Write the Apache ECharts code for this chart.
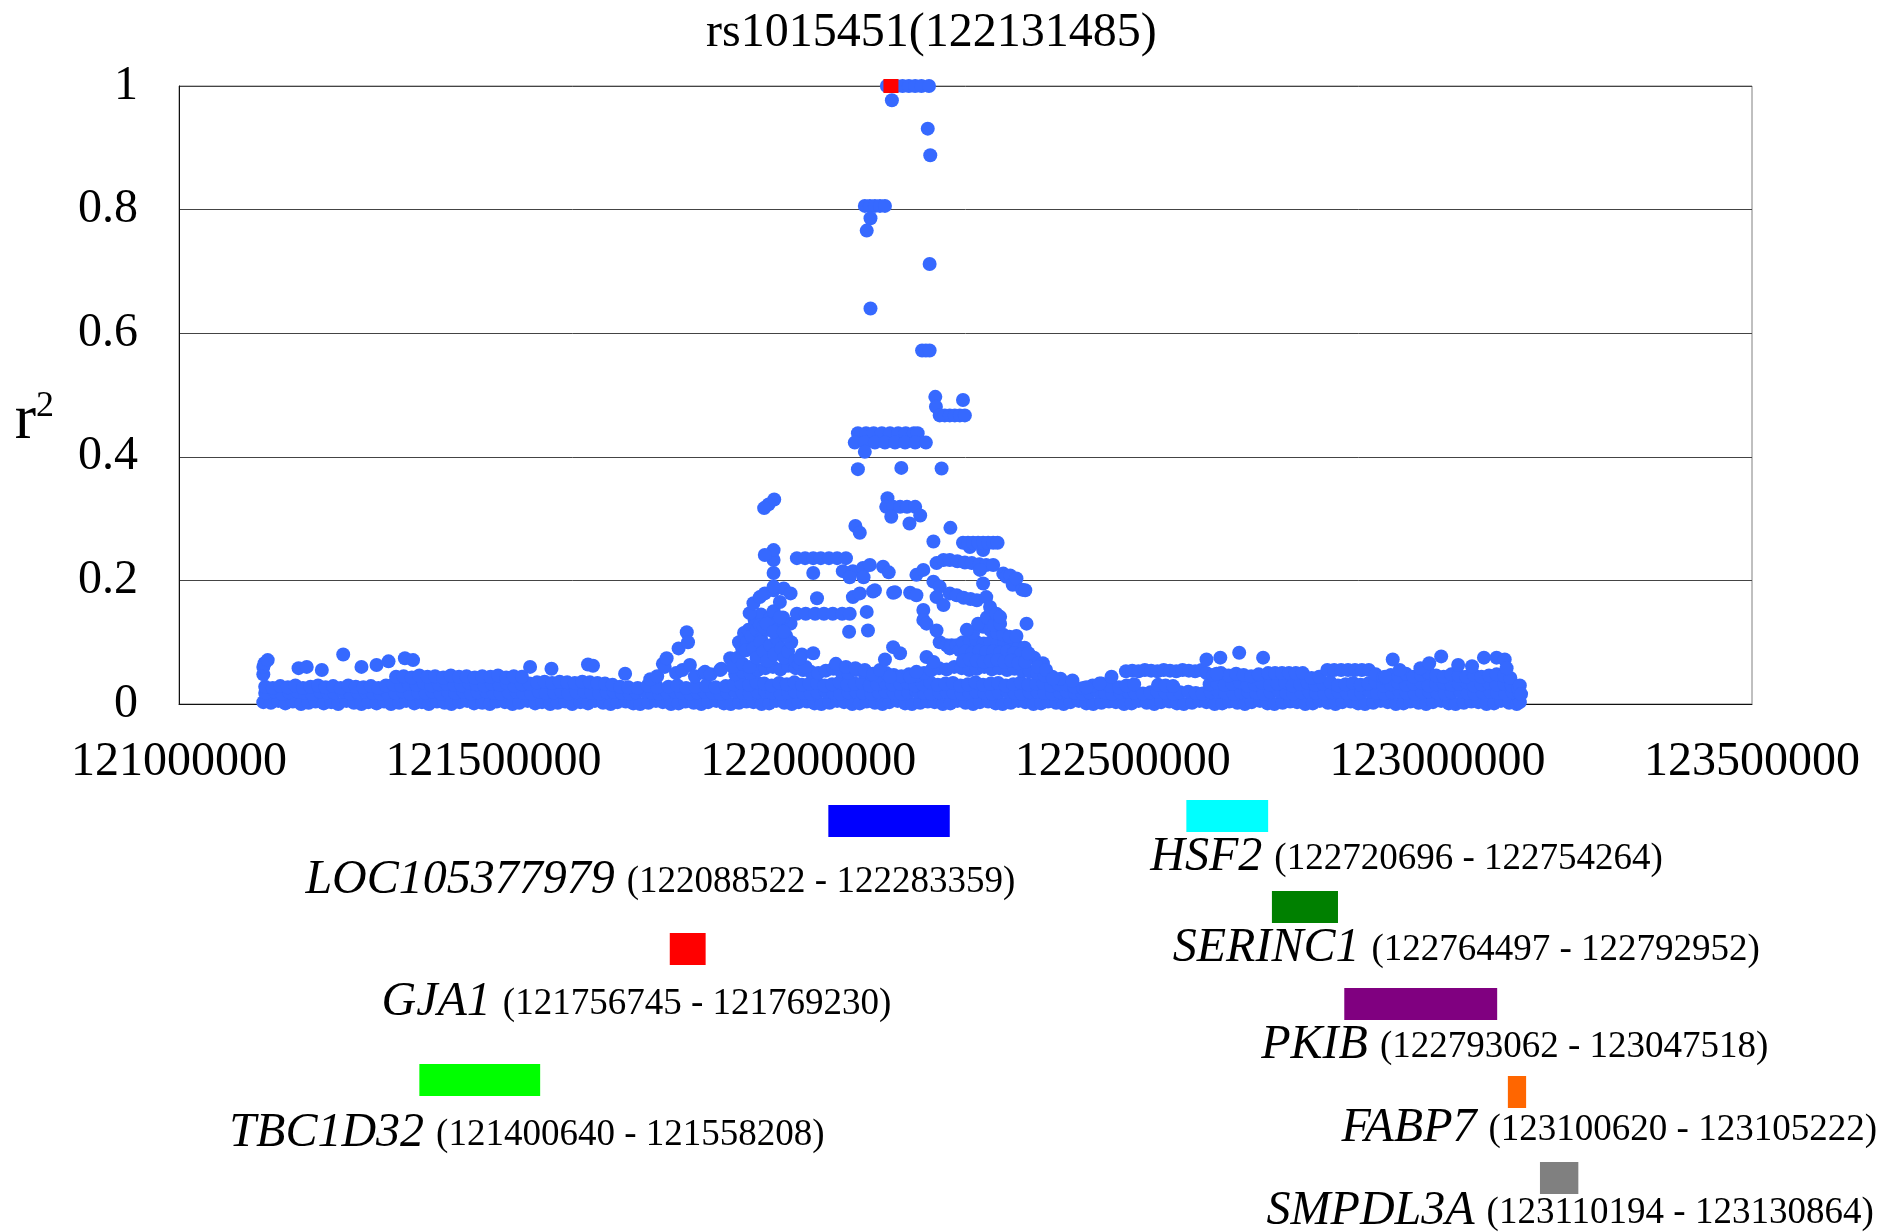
<!DOCTYPE html>
<html><head><meta charset="utf-8">
<script src="https://cdn.jsdelivr.net/npm/echarts@6/dist/echarts.min.js"></script>
<style>html,body{margin:0;padding:0;background:#fff}#c{width:1883px;height:1232px}</style>
</head><body><div id="c"></div><script>
// ---------------- DATA ----------------
const titleText = 'rs1015451(122131485)';
const leadSnp = [122131485, 1];
const xTicks = [121000000, 121500000, 122000000, 122500000, 123000000, 123500000];
const yTicks = [0, 0.2, 0.4, 0.6, 0.8, 1];
// SNP positions are kb offsets from 121,000 kb; values are r2
const REGION_START_KB = 121000;
const bandLow = [[134,0.003],[146,0.002],[158,0.005],[169,0.001],[181,0.004],[194,0],[206,0.002],[217,0.004],[230,0.001],[242,0.003],[253,0],[266,0.005],[278,0.002],[290,0],[301,0.003],[314,0.001],[326,0.004],[337,0],[350,0.002],[361,0.005],[374,0.001],[386,0.003],[397,0],[410,0.004],[422,0.002],[433,0],[446,0.003],[458,0.005],[469,0.001],[482,0.002],[494,0],[505,0.004],[518,0.003],[530,0],[541,0.002],[554,0.005],[566,0.001],[577,0.003],[590,0],[602,0.002],[614,0.004],[625,0],[638,0.003],[650,0.001],[661,0.005],[674,0.002],[686,0],[697,0.003],[710,0.004],[722,0.001],[733,0],[746,0.002],[758,0.005],[769,0.003],[782,0],[794,0.001],[805,0.004],[818,0.002],[830,0],[841,0.003],[854,0.005],[866,0.001],[877,0],[890,0.002],[902,0.004],[913,0.003],[926,0],[938,0.001],[949,0.005],[962,0.002],[974,0],[985,0.003],[998,0.004],[1010,0.001],[1021,0],[1034,0.002],[1046,0.005],[1057,0.003],[1070,0],[1082,0.001],[1093,0.004],[1106,0.002],[1118,0],[1129,0.003],[1142,0.005],[1154,0.001],[1165,0],[1178,0.002],[1190,0.004],[1201,0.003],[1214,0],[1226,0.001],[1237,0.005],[1250,0.002],[1262,0],[1273,0.003],[1286,0.004],[1298,0.001],[1309,0],[1322,0.002],[1334,0.005],[1345,0.003],[1358,0],[1370,0.001],[1381,0.004],[1394,0.002],[1406,0],[1417,0.003],[1430,0.005],[1442,0.001],[1453,0],[1466,0.002],[1478,0.004],[1489,0.003],[1502,0],[1514,0.001],[1525,0.005],[1538,0.002],[1550,0],[1561,0.003],[1574,0.004],[1586,0.001],[1597,0],[1610,0.002],[1622,0.005],[1633,0.003],[1646,0],[1658,0.001],[1669,0.004],[1682,0.002],[1694,0],[1705,0.003],[1718,0.005],[1730,0.001],[1741,0],[1754,0.002],[1766,0.004],[1777,0.003],[1790,0],[1802,0.001],[1813,0.005],[1826,0.002],[1838,0],[1849,0.003],[1862,0.004],[1874,0.001],[1885,0],[1898,0.002],[1910,0.005],[1921,0.003],[1934,0],[1946,0.001],[1957,0.004],[1970,0.002],[1982,0],[1993,0.003],[2006,0.005],[2018,0.001],[2029,0],[2042,0.002],[2054,0.004],[2065,0.003],[2078,0],[2090,0.001],[2101,0.005],[2114,0.002],[2126,0],[2131,0.003]];
const bandMid = [[137,0.018],[152,0.02],[163,0.017],[175,0.019],[188,0.02],[200,0.018],[211,0.017],[224,0.02],[236,0.019],[247,0.018],[260,0.02],[272,0.017],[284,0.019],[296,0.02],[308,0.018],[320,0.017],[331,0.019],[344,0.018],[356,0.02],[367,0.017],[380,0.019],[392,0.018],[403,0.02],[416,0.017],[428,0.019],[439,0.018],[452,0.02],[464,0.017],[475,0.019],[488,0.02],[500,0.018],[511,0.017],[524,0.019],[536,0.02],[547,0.018],[560,0.017],[572,0.02],[583,0.018],[596,0.019],[608,0.02],[619,0.017],[632,0.019],[644,0.02],[655,0.018],[668,0.017],[680,0.019],[691,0.02],[704,0.018],[716,0.017],[727,0.019],[740,0.02],[752,0.018],[763,0.017],[776,0.019],[788,0.02],[799,0.018],[812,0.017],[824,0.019],[835,0.02],[848,0.018],[860,0.017],[871,0.019],[884,0.02],[896,0.018],[907,0.017],[920,0.019],[932,0.02],[943,0.018],[956,0.017],[968,0.019],[979,0.02],[992,0.018],[1004,0.017],[1015,0.019],[1028,0.02],[1040,0.018],[1051,0.017],[1064,0.019],[1076,0.02],[1087,0.018],[1100,0.017],[1112,0.019],[1123,0.02],[1136,0.018],[1148,0.017],[1159,0.019],[1172,0.02],[1184,0.018],[1195,0.017],[1208,0.019],[1220,0.02],[1231,0.018],[1244,0.017],[1256,0.019],[1267,0.02],[1280,0.018],[1292,0.017],[1303,0.019],[1316,0.02],[1328,0.018],[1339,0.017],[1352,0.019],[1364,0.02],[1375,0.018],[1388,0.017],[1400,0.019],[1411,0.02],[1424,0.018],[1436,0.017],[1447,0.019],[1460,0.02],[1472,0.018],[1483,0.017],[1496,0.019],[1508,0.02],[1519,0.018],[1532,0.017],[1544,0.019],[1555,0.02],[1568,0.018],[1580,0.017],[1591,0.019],[1604,0.02],[1616,0.018],[1627,0.017],[1640,0.019],[1652,0.02],[1663,0.018],[1676,0.017],[1688,0.019],[1699,0.02],[1712,0.018],[1724,0.017],[1735,0.019],[1748,0.02],[1760,0.018],[1771,0.017],[1784,0.019],[1796,0.02],[1807,0.018],[1820,0.017],[1832,0.019],[1843,0.02],[1856,0.018],[1868,0.017],[1879,0.019],[1892,0.02],[1904,0.018],[1915,0.017],[1928,0.019],[1940,0.02],[1951,0.018],[1964,0.017],[1976,0.019],[1987,0.02],[2000,0.018],[2012,0.017],[2023,0.019],[2036,0.02],[2048,0.018],[2059,0.017],[2072,0.019],[2084,0.02],[2095,0.018],[2108,0.017],[2120,0.019],[2130,0.018]];
const bandUpper = [[137,0.028],[149,0.026],[161,0.029],[173,0.027],[185,0.03],[197,0.026],[209,0.028],[221,0.03],[233,0.027],[245,0.029],[257,0.026],[269,0.03],[281,0.028],[293,0.027],[305,0.029],[317,0.026],[329,0.03],[341,0.032],[353,0.03],[365,0.033],[377,0.031],[389,0.034],[401,0.03],[413,0.032],[425,0.033],[437,0.031],[449,0.03],[461,0.034],[473,0.032],[485,0.03],[497,0.033],[509,0.031],[521,0.034],[533,0.03],[545,0.032],[557,0.033],[569,0.035],[581,0.036],[593,0.034],[605,0.036],[617,0.035],[629,0.034],[641,0.036],[653,0.035],[665,0.034],[677,0.033],[689,0.031],[701,0.028],[714,0.027],[729,0.026],[745,0.03],[760,0.027],[778,0.028],[792,0.03],[806,0.026],[821,0.028],[838,0.03],[853,0.027],[869,0.029],[882,0.032],[894,0.034],[906,0.031],[918,0.035],[930,0.033],[942,0.03],[954,0.034],[966,0.032],[978,0.035],[990,0.031],[1002,0.033],[1014,0.034],[1026,0.03],[1038,0.032],[1050,0.035],[1062,0.031],[1074,0.033],[1086,0.034],[1098,0.03],[1110,0.032],[1122,0.035],[1134,0.031],[1146,0.033],[1158,0.034],[1170,0.03],[1182,0.032],[1194,0.035],[1206,0.031],[1218,0.033],[1230,0.034],[1242,0.03],[1254,0.032],[1266,0.035],[1278,0.031],[1290,0.033],[1302,0.034],[1314,0.03],[1326,0.032],[1338,0.035],[1350,0.031],[1362,0.033],[1374,0.034],[1386,0.03],[1398,0.032],[1410,0.032],[1423,0.028],[1437,0.026],[1452,0.03],[1466,0.033],[1480,0.029],[1494,0.027],[1506,0.03],[1518,0.032],[1556,0.031],[1568,0.03],[1580,0.029],[1638,0.032],[1650,0.034],[1662,0.031],[1674,0.033],[1686,0.035],[1698,0.03],[1710,0.032],[1722,0.034],[1734,0.031],[1746,0.033],[1758,0.035],[1770,0.03],[1782,0.032],[1794,0.034],[1806,0.031],[1818,0.033],[1830,0.035],[1842,0.03],[1854,0.032],[1866,0.034],[1878,0.031],[1890,0.033],[1902,0.035],[1914,0.03],[1926,0.032],[1938,0.034],[1950,0.031],[1962,0.033],[1974,0.035],[1986,0.03],[1998,0.032],[2010,0.034],[2022,0.031],[2034,0.033],[2046,0.035],[2058,0.03],[2070,0.032],[2082,0.034],[2094,0.031],[2106,0.033],[2118,0.03],[2128,0.026]];
const bandTop = [[345,0.044],[357,0.045],[370,0.043],[382,0.046],[395,0.044],[407,0.045],[420,0.043],[432,0.046],[445,0.044],[457,0.045],[470,0.043],[482,0.045],[495,0.044],[507,0.046],[520,0.043],[532,0.045],[545,0.044],[884,0.048],[896,0.052],[908,0.05],[920,0.055],[932,0.058],[944,0.06],[956,0.056],[968,0.062],[980,0.058],[992,0.055],[1004,0.052],[1016,0.05],[1028,0.054],[1040,0.057],[1052,0.053],[1064,0.05],[1076,0.055],[1088,0.052],[1100,0.048],[1112,0.046],[1124,0.05],[1136,0.047],[1148,0.045],[1160,0.048],[1172,0.046],[1184,0.05],[1196,0.055],[1208,0.058],[1220,0.056],[1232,0.06],[1244,0.058],[1256,0.055],[1268,0.057],[1280,0.06],[1292,0.056],[1304,0.058],[1316,0.055],[1328,0.057],[1340,0.054],[1352,0.052],[1364,0.05],[1376,0.046],[1388,0.044],[1505,0.053],[1515,0.054],[1525,0.053],[1535,0.055],[1545,0.054],[1555,0.053],[1565,0.055],[1575,0.054],[1585,0.053],[1595,0.055],[1605,0.054],[1615,0.053],[1625,0.055],[1633,0.05],[1644,0.047],[1656,0.05],[1668,0.046],[1680,0.049],[1692,0.047],[1704,0.045],[1716,0.048],[1731,0.05],[1742,0.05],[1753,0.05],[1764,0.05],[1775,0.05],[1786,0.05],[1800,0.042],[1812,0.044],[1825,0.055],[1836,0.055],[1847,0.055],[1858,0.055],[1869,0.055],[1880,0.055],[1891,0.055],[1902,0.048],[1914,0.043],[1926,0.047],[1938,0.045],[1950,0.049],[1962,0.044],[1974,0.047],[1986,0.05],[1998,0.046],[2010,0.044],[2022,0.048],[2034,0.046],[2046,0.044],[2058,0.047],[2070,0.044],[2082,0.046],[2094,0.048],[2106,0.046],[2116,0.042]];
const shoulderPoints = [[134,0.048],[134,0.06],[136,0.066],[141,0.071],[190,0.058],[203,0.06],[227,0.055],[261,0.08],[290,0.06],[314,0.063],[333,0.069],[359,0.074],[372,0.071],[558,0.06],[592,0.057],[650,0.064],[658,0.062],[709,0.049],[749,0.04],[760,0.045],[769,0.065],[772,0.06],[775,0.074],[790,0.05],[794,0.09],[800,0.055],[807,0.116],[809,0.1],[812,0.063],[820,0.045],[834,0.05],[836,0.052],[845,0.048],[860,0.055],[862,0.057],[876,0.074],[1359,0.075],[1373,0.066],[1401,0.041],[1420,0.038],[1442,0.027],[1463,0.033],[1482,0.044],[1633,0.072],[1649,0.049],[1655,0.075],[1685,0.083],[1723,0.075],[1917,0.044],[1929,0.072],[1940,0.055],[1973,0.058],[1987,0.066],[2006,0.077],[2033,0.063],[2055,0.061],[2074,0.075],[2094,0.075],[2107,0.072],[2110,0.058],[2131,0.03],[2133,0.016]];
const peakLowPoints = [[880,0.06],[888,0.075],[890,0.1],[895,0.09],[898,0.115],[903,0.1],[905,0.12],[910,0.11],[915,0.135],[918,0.12],[925,0.105],[925,0.145],[896,0.065],[901,0.087],[907,0.06],[913,0.09],[918,0.075],[924,0.1],[929,0.085],[935,0.07],[940,0.095],[946,0.08],[951,0.105],[957,0.09],[962,0.075],[968,0.085],[973,0.1],[979,0.07],[985,0.065],[990,0.08],[996,0.06],[935,0.12],[945,0.13],[955,0.125],[965,0.11],[972,0.13],[940,0.14],[960,0.14],[987,0.074],[1008,0.082],[1044,0.065],[1060,0.06],[1075,0.058],[1090,0.055],[1103,0.049],[1114,0.055],[1122,0.072],[1130,0.044],[1135,0.092],[1146,0.082],[1162,0.044],[1172,0.052],[1188,0.076],[1199,0.068],[1209,0.1],[1220,0.095],[1225,0.09],[1228,0.095],[1236,0.095],[1241,0.087],[1246,0.1],[1257,0.102],[1268,0.1],[1279,0.098],[1290,0.1],[1301,0.097],[1312,0.1],[1323,0.095],[1334,0.092],[1344,0.091],[1250,0.085],[1261,0.083],[1272,0.086],[1283,0.084],[1294,0.085],[1305,0.083],[1316,0.085],[1327,0.082],[1338,0.08],[1246,0.07],[1257,0.072],[1268,0.07],[1279,0.068],[1290,0.07],[1301,0.071],[1312,0.068],[1323,0.07],[1334,0.066],[1345,0.068],[1350,0.082],[1365,0.06],[1378,0.055],[1389,0.041],[1278,0.125],[1289,0.12],[1300,0.115],[1310,0.112],[1320,0.109],[1331,0.11],[1347,0.13],[1262,0.115],[1270,0.13],[1284,0.14],[1295,0.128],[1305,0.13],[1252,0.12]];
const peakMidPoints = [[907,0.147],[913,0.163],[923,0.173],[931,0.179],[945,0.184],[961,0.187],[972,0.179],[923,0.128],[929,0.125],[934,0.13],[945,0.117],[961,0.117],[945,0.15],[955,0.165],[955,0.14],[945,0.19],[945,0.212],[945,0.233],[945,0.249],[931,0.241],[982,0.236],[995,0.236],[1008,0.236],[1020,0.236],[1033,0.236],[1046,0.236],[1060,0.236],[1008,0.212],[1014,0.171],[1055,0.215],[1071,0.215],[1087,0.22],[1098,0.225],[1119,0.222],[1128,0.213],[1066,0.205],[1088,0.205],[1071,0.173],[1082,0.179],[1103,0.182],[1106,0.184],[1135,0.18],[1138,0.181],[1162,0.18],[1172,0.176],[982,0.146],[996,0.146],[1011,0.146],[1025,0.146],[1039,0.146],[1054,0.146],[1066,0.146],[1093,0.149],[1095,0.119],[1065,0.117],[1172,0.209],[1183,0.217],[1204,0.228],[1215,0.233],[1225,0.233],[1237,0.231],[1249,0.229],[1260,0.228],[1272,0.226],[1283,0.225],[1294,0.225],[1199,0.198],[1209,0.19],[1204,0.173],[1215,0.16],[1225,0.179],[1236,0.176],[1247,0.172],[1258,0.17],[1268,0.168],[1273,0.217],[1278,0.195],[1283,0.173],[1289,0.157],[1299,0.146],[1305,0.141],[1310,0.211],[1315,0.206],[1321,0.208],[1325,0.193],[1331,0.203],[1340,0.185],[1345,0.184],[1183,0.152],[1183,0.136],[1188,0.13],[1204,0.119],[1257,0.254],[1278,0.249]];
const peakHighPoints = [[1125,1],[1140,1],[1150,1],[1160,1],[1170,1],[1180,1],[1192,1],[1133,0.977],[1190,0.931],[1194,0.888],[1090,0.806],[1098,0.806],[1106,0.806],[1114,0.806],[1122,0.806],[1099,0.786],[1093,0.766],[1193,0.712],[1099,0.64],[1181,0.572],[1187,0.572],[1193,0.572],[1202,0.497],[1203,0.481],[1246,0.492],[1209,0.467],[1217,0.467],[1225,0.467],[1233,0.467],[1241,0.467],[1249,0.467],[1079,0.438],[1092,0.438],[1104,0.438],[1117,0.438],[1130,0.438],[1143,0.438],[1155,0.438],[1168,0.438],[1174,0.438],[1074,0.423],[1090,0.423],[1106,0.423],[1122,0.423],[1138,0.423],[1154,0.423],[1170,0.423],[1187,0.423],[1090,0.408],[1079,0.38],[1148,0.382],[1212,0.381],[946,0.331],[937,0.323],[930,0.317],[1126,0.333],[1124,0.319],[1135,0.319],[1146,0.319],[1157,0.319],[1170,0.319],[1178,0.305],[1132,0.303],[1161,0.292],[1075,0.288],[1082,0.277],[1226,0.285],[1199,0.263],[1246,0.261],[1254,0.261],[1262,0.261],[1270,0.261],[1278,0.261],[1286,0.261],[1294,0.261],[1301,0.261]];
// genes
const geneNames = ['LOC105377979','HSF2','SERINC1','GJA1','PKIB','TBC1D32','FABP7','SMPDL3A'];
const geneStarts = [122088522,122720696,122764497,121756745,122793062,121400640,123100620,123110194];
const geneEnds = [122283359,122754264,122792952,121769230,123047518,121558208,123105222,123130864];
// drawn extent of each gene bar (bp)
const geneBarFrom = [122032000,122601000,122737000,121780000,122852000,121382000,123112000,123163000];
const geneBarTo = [122225000,122731000,122842000,121837000,123095000,121574000,123141000,123224000];
const geneColors = ['#0000ff','#00ffff','#008000','#ff0000','#800080','#00ff00','#ff6600','#808080'];

// ---------------- LAYOUT ----------------
// vertical track positions (px below top of gene panel), label anchor (bp)
const geneTrackY = [41,36,127,169,224,300,312,398];
const geneLabelX = [121765000,122951000,123046000,121727000,123123000,121553000,123273000,123211000];
const geneLabelY = [100,77,168,222,265,353,348,431];
const FONT = '"Liberation Serif", "Times New Roman", serif';

const toPt = p => [(REGION_START_KB + p[0]) * 1000, p[1]];
const blueData = [].concat(bandLow, bandMid, bandUpper, bandTop, shoulderPoints, peakLowPoints, peakMidPoints, peakHighPoints).map(toPt);
const geneData = geneNames.map((n, i) => [geneBarFrom[i], geneBarTo[i], geneTrackY[i], geneLabelX[i], geneLabelY[i]]);

const chart = echarts.init(document.getElementById('c'), null, {renderer: 'canvas'});
chart.setOption({
  animation: false,
  backgroundColor: '#fff',
  textStyle: {fontFamily: FONT},
  title: {text: titleText, left: 706, top: 9, padding: 0,
    textStyle: {fontFamily: FONT, fontSize: 48, fontWeight: 'normal', color: '#000'}},
  grid: [
    {left: 179, top: 86, width: 1573, height: 618, show: true, borderColor: '#808080', borderWidth: 1, containLabel: false, outerBoundsMode: 'none'},
    {left: 179, top: 780, width: 1573, height: 452, show: false, containLabel: false, outerBoundsMode: 'none'}
  ],
  xAxis: [
    {type: 'value', gridIndex: 0, min: xTicks[0], max: xTicks[xTicks.length - 1], interval: 500000,
      axisLine: {show: true, onZero: false, lineStyle: {color: '#111', width: 1}},
      axisTick: {show: false}, splitLine: {show: false},
      axisLabel: {show: true, margin: 34, color: '#000', fontSize: 48, fontFamily: FONT, showMinLabel: true, showMaxLabel: true,
        formatter: v => v.toFixed(0)}},
    {type: 'value', gridIndex: 1, min: xTicks[0], max: xTicks[xTicks.length - 1], show: false}
  ],
  yAxis: [
    {type: 'value', gridIndex: 0, min: yTicks[0], max: yTicks[yTicks.length - 1], interval: 0.2,
      axisLine: {show: true, lineStyle: {color: '#111', width: 1}},
      axisTick: {show: false},
      splitLine: {show: true, lineStyle: {color: '#444', width: 1}},
      axisLabel: {margin: 41, color: '#000', fontSize: 48, fontFamily: FONT, formatter: v => String(+v.toFixed(1))},
      name: '{r|r}{s|2}', nameLocation: 'middle', nameRotate: 0, nameGap: 125,
      nameTextStyle: {padding: [52, 0, 0, 0], rich: {
        r: {fontSize: 64, fontFamily: FONT, color: '#000', verticalAlign: 'bottom'},
        s: {fontSize: 36, fontFamily: FONT, color: '#000', verticalAlign: 'top'}}}},
    {type: 'value', gridIndex: 1, min: 0, max: 452, inverse: true, show: false}
  ],
  series: [
    {type: 'scatter', name: 'SNPs', xAxisIndex: 0, yAxisIndex: 0, data: blueData, symbol: 'circle', symbolSize: 14,
      itemStyle: {color: '#3669ff', opacity: 1}, silent: true, z: 2},
    {type: 'scatter', name: 'lead', xAxisIndex: 0, yAxisIndex: 0, data: [leadSnp], symbol: 'rect', symbolSize: [15, 14],
      itemStyle: {color: '#ff0000', opacity: 1}, silent: true, z: 3},
    {type: 'custom', name: 'genes', xAxisIndex: 1, yAxisIndex: 1, data: geneData, clip: false, silent: true,
      renderItem: function (params, api) {
        const i = params.dataIndex;
        const p0 = api.coord([api.value(0), api.value(2)]);
        const p1 = api.coord([api.value(1), api.value(2)]);
        const h = api.size([0, 32])[1];
        const lp = api.coord([api.value(3), api.value(4)]);
        return {type: 'group', children: [
          {type: 'rect', shape: {x: p0[0], y: p0[1] - h / 2, width: p1[0] - p0[0], height: h}, style: {fill: geneColors[i]}},
          {type: 'text', x: lp[0], y: lp[1], style: {
            text: '{g|' + geneNames[i] + '\u00a0}{c|(' + geneStarts[i] + ' - ' + geneEnds[i] + ')}',
            align: 'center', verticalAlign: 'middle', fill: '#000',
            rich: {
              g: {fontFamily: FONT, fontStyle: 'italic', fontSize: 48, fill: '#000', verticalAlign: 'bottom'},
              c: {fontFamily: FONT, fontSize: 37, fill: '#000', verticalAlign: 'bottom', padding: [0, 0, 3, 0]}
            }}}
        ]};
      }}
  ]
});
</script></body></html>
